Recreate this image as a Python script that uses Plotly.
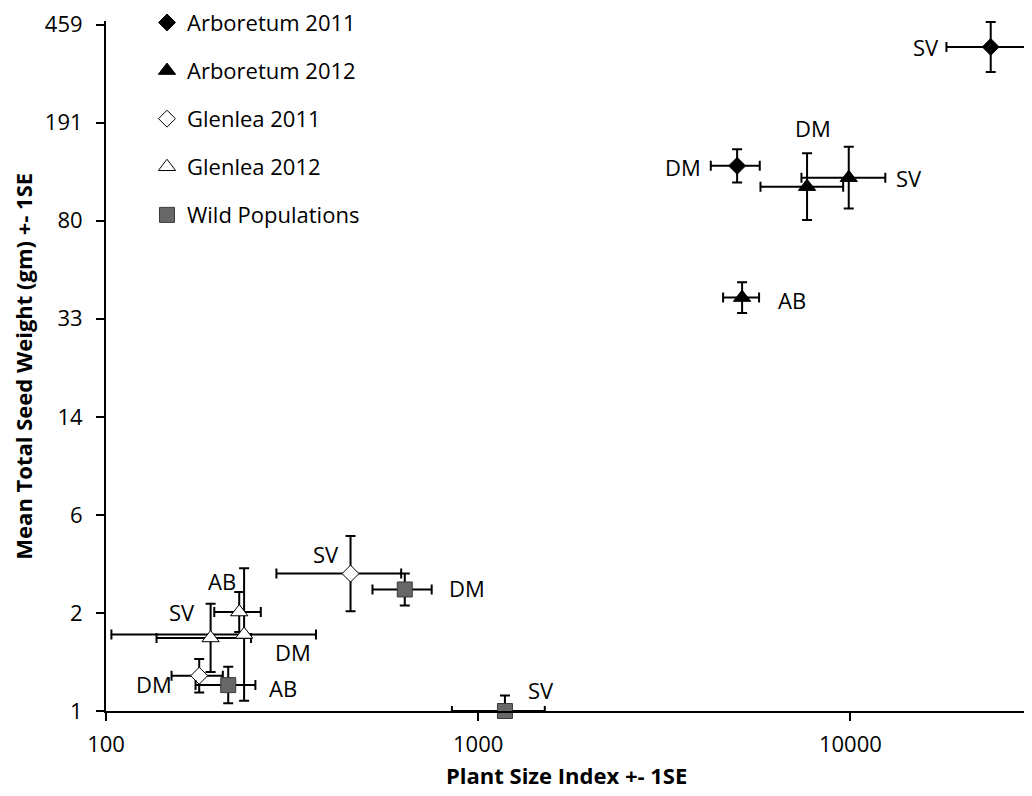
import numpy as np
import plotly.graph_objects as go

# ---------------- data ----------------
# Plant size index (x) and its SE; mean total seed weight (g) (y) with SE on the ln scale
arb11_labels = ["SV", "DM"]
arb11_psi = [23830, 4963]
arb11_psi_se = [5710, 746]
arb11_seed = [376, 130]
arb11_seed_se_ln = [0.223, 0.149]

arb12_labels = ["DM", "SV", "AB"]
arb12_psi = [7650, 9901, 5118]
arb12_psi_se = [1915, 2512, 567]
arb12_seed = [108, 117, 40.1]
arb12_seed_se_ln = [0.297, 0.275, 0.138]

gle11_labels = ["SV", "DM"]
gle11_psi = [454, 178]
gle11_psi_se = [167, 28]
gle11_seed = [3.41, 1.37]
gle11_seed_se_ln = [0.335, 0.149]

gle12_labels = ["AB", "SV", "DM"]
gle12_psi = [228, 191, 235]
gle12_psi_se = [32.6, 54.3, 131.6]
gle12_seed = [2.42, 1.92, 1.98]
gle12_seed_se_ln = [0.179, 0.305, 0.591]

wild_labels = ["DM", "AB", "SV"]
wild_psi = [635, 213, 1180]
wild_psi_se = [115, 39, 330]
wild_seed = [2.96, 1.26, 1.0]
wild_seed_se_ln = [0.143, 0.163, 0.138]

y_tick_labels = ["1", "2", "6", "14", "33", "80", "191", "459"]
x_tick_vals = [100, 1000, 10000]
x_tick_labels = ["100", "1000", "10000"]

# ---------------- styling ----------------
FONT = "Open Sans"
FS = 22

series = [
    dict(name="Arboretum 2011", labels=arb11_labels, x=arb11_psi, xse=arb11_psi_se,
         y=arb11_seed, yse=arb11_seed_se_ln,
         marker=dict(symbol="diamond", size=13, color="black", line=dict(color="black", width=1))),
    dict(name="Arboretum 2012", labels=arb12_labels, x=arb12_psi, xse=arb12_psi_se,
         y=arb12_seed, yse=arb12_seed_se_ln,
         marker=dict(symbol="triangle-up", size=15, color="black", line=dict(color="black", width=1))),
    dict(name="Glenlea 2011", labels=gle11_labels, x=gle11_psi, xse=gle11_psi_se,
         y=gle11_seed, yse=gle11_seed_se_ln,
         marker=dict(symbol="diamond", size=13, color="white", line=dict(color="black", width=1))),
    dict(name="Glenlea 2012", labels=gle12_labels, x=gle12_psi, xse=gle12_psi_se,
         y=gle12_seed, yse=gle12_seed_se_ln,
         marker=dict(symbol="triangle-up", size=15, color="white", line=dict(color="black", width=1))),
    dict(name="Wild Populations", labels=wild_labels, x=wild_psi, xse=wild_psi_se,
         y=wild_seed, yse=wild_seed_se_ln,
         marker=dict(symbol="square", size=15, color="#676767", line=dict(color="#3a3a3a", width=1))),
]

# label offsets in screen px (dx right, dy down) relative to the point
label_offsets = {
    ("Arboretum 2011", "SV"): (-65, 0),
    ("Arboretum 2011", "DM"): (-54, 1),
    ("Arboretum 2012", "DM"): (6, -59),
    ("Arboretum 2012", "SV"): (60, 0),
    ("Arboretum 2012", "AB"): (50, 2),
    ("Glenlea 2011", "SV"): (-25, -20),
    ("Glenlea 2011", "DM"): (-45, 8),
    ("Glenlea 2012", "AB"): (-17, -31),
    ("Glenlea 2012", "SV"): (-29, -26),
    ("Glenlea 2012", "DM"): (49, 17),
    ("Wild Populations", "DM"): (62, -1),
    ("Wild Populations", "AB"): (55, 3),
    ("Wild Populations", "SV"): (36, -21),
}

fig = go.Figure()
annotations = []
for i, s in enumerate(series):
    y = np.array(s["y"], dtype=float)
    se = np.array(s["yse"], dtype=float)
    plus = y * (np.exp(se) - 1)
    minus = y * (1 - np.exp(-se))
    fig.add_trace(go.Scatter(
        x=s["x"], y=s["y"], mode="markers", name=s["name"],
        legendgroup=str(i), marker=s["marker"], cliponaxis=False,
        error_x=dict(type="data", array=s["xse"], symmetric=True,
                     color="black", thickness=2, width=5),
        error_y=dict(type="data", array=plus, arrayminus=minus, symmetric=False,
                     color="black", thickness=2, width=5),
    ))
    for lab, xv, yv in zip(s["labels"], s["x"], s["y"]):
        dx, dy = label_offsets[(s["name"], lab)]
        annotations.append(dict(
            x=np.log10(xv), y=np.log10(yv), xref="x", yref="y", text=lab,
            showarrow=False, xshift=dx, yshift=-dy, xanchor="center", yanchor="middle",
            font=dict(family=FONT, size=FS, color="black")))

# axis titles
annotations.append(dict(text="<b>Plant Size Index +- 1SE</b>", xref="paper", yref="paper",
                        x=0.5, y=-0.093, showarrow=False, xanchor="center", yanchor="middle",
                        font=dict(family=FONT, size=FS, color="black")))
annotations.append(dict(text="<b>Mean Total Seed Weight (gm) +- 1SE</b>", xref="paper", yref="paper",
                        x=-0.0905, y=0.5, showarrow=False, textangle=-90,
                        xanchor="center", yanchor="middle",
                        font=dict(family=FONT, size=FS, color="black")))

ymax = 459
y_tick_vals = [np.exp(k * np.log(ymax) / 7) for k in range(8)]

# the page body adds an 8px margin, so the figure is 8px smaller and shifted
fig.update_layout(
    width=1024, height=788,
    margin=dict(l=98, r=5, t=13, b=85, autoexpand=False),
    paper_bgcolor="white", plot_bgcolor="white",
    font=dict(family=FONT, size=FS, color="black"),
    showlegend=True,
    legend=dict(x=0.0445, y=1.028, xanchor="left", yanchor="top",
                tracegroupgap=16.5, itemwidth=30,
                bgcolor="rgba(0,0,0,0)", font=dict(family=FONT, size=FS, color="black")),
    annotations=annotations,
)
fig.update_xaxes(type="log", range=[2, 4.4746], tickvals=x_tick_vals, ticktext=x_tick_labels,
                 showgrid=False, zeroline=False, showline=True, linecolor="black", linewidth=2,
                 ticks="outside", ticklen=8, tickwidth=2, tickcolor="black",
                 ticklabelstandoff=5, tickfont=dict(family=FONT, size=FS, color="black"))
fig.update_yaxes(type="log", range=[0, np.log10(ymax) + 0.0139], tickvals=y_tick_vals,
                 ticktext=y_tick_labels,
                 showgrid=False, zeroline=False, showline=True, linecolor="black", linewidth=2,
                 ticks="outside", ticklen=8, tickwidth=2, tickcolor="black",
                 ticklabelstandoff=9, tickfont=dict(family=FONT, size=FS, color="black"))

fig.write_html("out.html")
